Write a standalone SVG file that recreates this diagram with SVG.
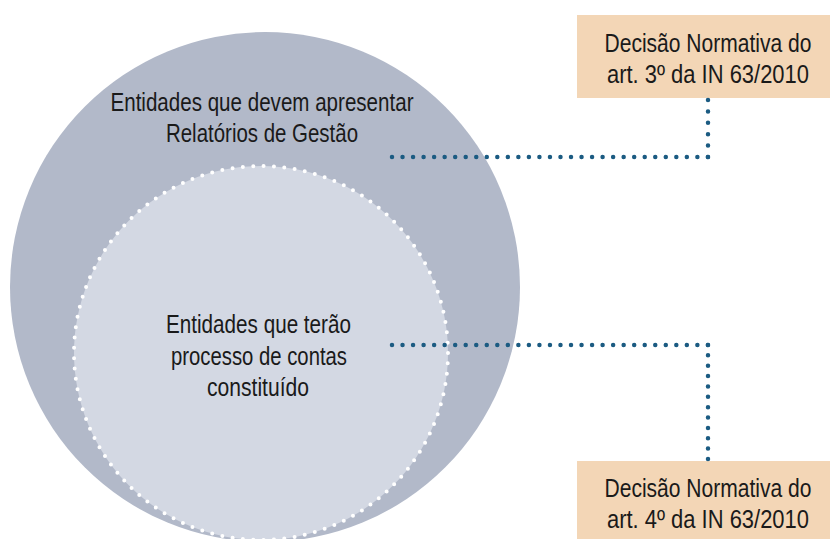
<svg xmlns="http://www.w3.org/2000/svg" width="830" height="539" viewBox="0 0 830 539">
<style>
  .t { font-family: "Liberation Sans", Arial, sans-serif; font-size: 25px; fill: #1a1a1a; text-anchor: middle; }
  .box { fill: #f3d6b6; }
  .conn { fill: none; stroke: #1b5b82; stroke-width: 4.5; stroke-linecap: round; }
</style>
<rect width="830" height="539" fill="#ffffff"/>
<g id="outer">
  <circle cx="265" cy="287" r="255" fill="#b2b9c9"/>
  <text class="t" transform="scale(0.85 1)" x="308.24" y="111" textLength="356.5" lengthAdjust="spacingAndGlyphs">Entidades que devem apresentar</text>
  <text class="t" transform="scale(0.85 1)" x="308.24" y="142" textLength="225.9" lengthAdjust="spacingAndGlyphs">Relatórios de Gestão</text>
</g>
<g id="inner">
  <circle cx="261" cy="353" r="187" fill="#d3d8e3"/>
  <circle cx="261" cy="353" r="187" fill="none" stroke="#ffffff" stroke-width="4" stroke-linecap="round" pathLength="113" stroke-dasharray="0 1"/>
  <text class="t" transform="scale(0.85 1)" x="304.12" y="333" textLength="217.6" lengthAdjust="spacingAndGlyphs">Entidades que terão</text>
  <text class="t" transform="scale(0.85 1)" x="304.71" y="365" textLength="207.1" lengthAdjust="spacingAndGlyphs">processo de contas</text>
  <text class="t" transform="scale(0.85 1)" x="303.53" y="396" textLength="120" lengthAdjust="spacingAndGlyphs">constituído</text>
</g>
<g id="box-art3">
  <rect class="box" x="577" y="15" width="253" height="83"/>
  <text class="t" transform="scale(0.85 1)" x="832.94" y="52" textLength="243.5" lengthAdjust="spacingAndGlyphs">Decisão Normativa do</text>
  <text class="t" transform="scale(0.85 1)" x="832.94" y="83" textLength="237.6" lengthAdjust="spacingAndGlyphs">art. 3º da IN 63/2010</text>
</g>
<g id="box-art4">
  <rect class="box" x="577" y="461" width="253" height="78"/>
  <text class="t" transform="scale(0.85 1)" x="832.94" y="497" textLength="243.5" lengthAdjust="spacingAndGlyphs">Decisão Normativa do</text>
  <text class="t" transform="scale(0.85 1)" x="832.94" y="528" textLength="237.6" lengthAdjust="spacingAndGlyphs">art. 4º da IN 63/2010</text>
</g>
<g id="connectors">
  <path class="conn" d="M392 157 H708" stroke-dasharray="0 10.53"/>
  <path class="conn" d="M708 157 V100" stroke-dasharray="0 11.4"/>
  <path class="conn" d="M392 345 H708" stroke-dasharray="0 10.53"/>
  <path class="conn" d="M708 345 V459" stroke-dasharray="0 10.36"/>
</g>
</svg>
